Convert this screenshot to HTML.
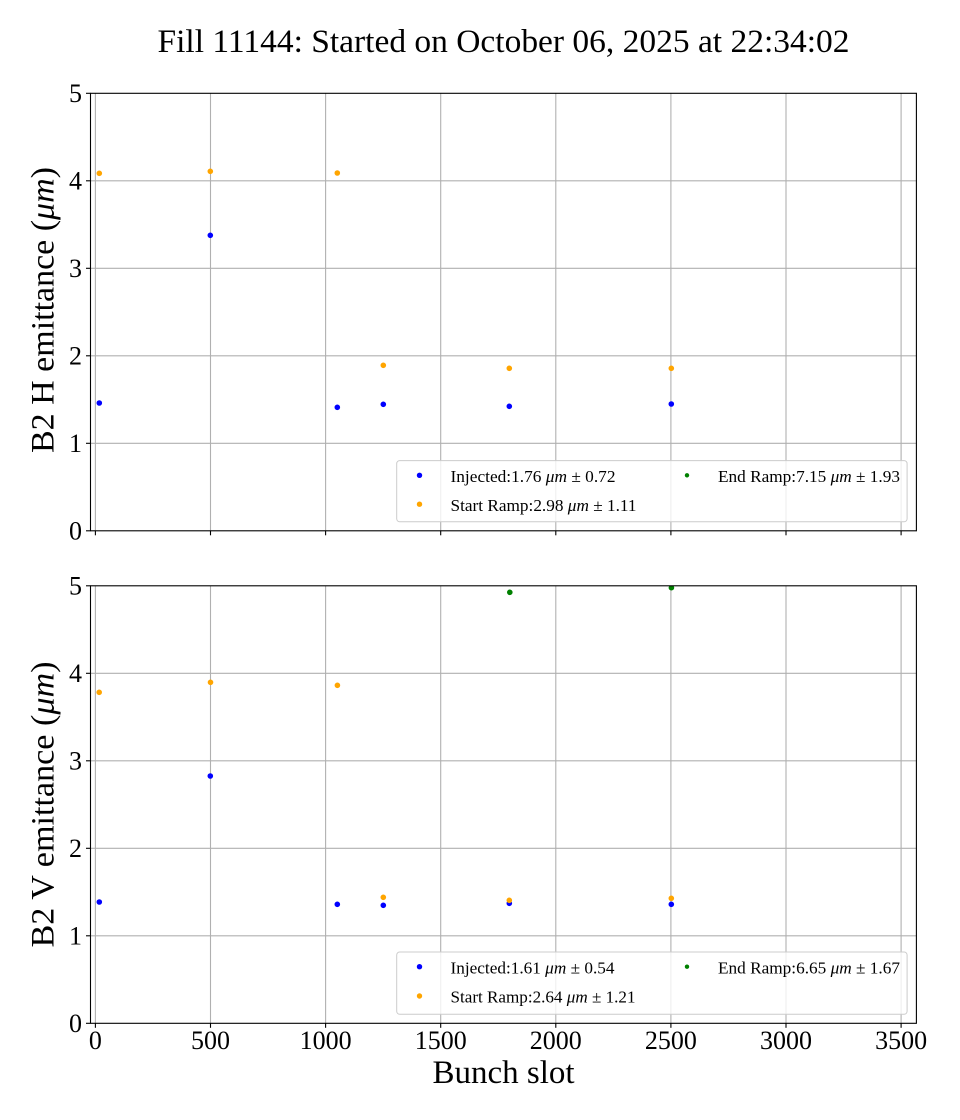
<!DOCTYPE html>
<html>
<head>
<meta charset="utf-8">
<style>
  html, body { margin: 0; padding: 0; background: #ffffff; }
  svg { display: block; }
  text { font-family: "Liberation Serif", "DejaVu Serif", serif; fill: #000; }
</style>
</head>
<body>
<svg width="960" height="1120" viewBox="0 0 960 1120" xmlns="http://www.w3.org/2000/svg">
  <defs>
    <clipPath id="c1"><rect x="90.5" y="93.3" width="825.9" height="437.5"/></clipPath>
    <clipPath id="c2"><rect x="90.5" y="585.8" width="825.9" height="437.5"/></clipPath>
  </defs>
  <rect width="960" height="1120" fill="#fff"/>

  <!-- Title -->
  <text x="503.5" y="52" font-size="33" text-anchor="middle" textLength="692" lengthAdjust="spacingAndGlyphs">Fill 11144: Started on October 06, 2025 at 22:34:02</text>

  <!-- ================= TOP AXES ================= -->
  <g stroke="#b0b0b0" stroke-width="1.1" fill="none">
    <line x1="95.4" y1="93.3" x2="95.4" y2="530.8"/>
    <line x1="210.5" y1="93.3" x2="210.5" y2="530.8"/>
    <line x1="325.6" y1="93.3" x2="325.6" y2="530.8"/>
    <line x1="440.7" y1="93.3" x2="440.7" y2="530.8"/>
    <line x1="555.8" y1="93.3" x2="555.8" y2="530.8"/>
    <line x1="670.9" y1="93.3" x2="670.9" y2="530.8"/>
    <line x1="786" y1="93.3" x2="786" y2="530.8"/>
    <line x1="901.1" y1="93.3" x2="901.1" y2="530.8"/>
    <line x1="90.5" y1="443.3" x2="916.4" y2="443.3"/>
    <line x1="90.5" y1="355.8" x2="916.4" y2="355.8"/>
    <line x1="90.5" y1="268.3" x2="916.4" y2="268.3"/>
    <line x1="90.5" y1="180.8" x2="916.4" y2="180.8"/>
  </g>
  <g clip-path="url(#c1)">
    <g fill="#0000ff">
      <circle cx="99.3" cy="403" r="2.8"/>
      <circle cx="210.3" cy="235.3" r="2.8"/>
      <circle cx="337.3" cy="407.3" r="2.8"/>
      <circle cx="383.3" cy="404.3" r="2.8"/>
      <circle cx="509.3" cy="406.3" r="2.8"/>
      <circle cx="671.3" cy="404" r="2.8"/>
    </g>
    <g fill="#ffa500">
      <circle cx="99.3" cy="173.3" r="2.8"/>
      <circle cx="210.3" cy="171.3" r="2.8"/>
      <circle cx="337.3" cy="173" r="2.8"/>
      <circle cx="383.3" cy="365.3" r="2.8"/>
      <circle cx="509.3" cy="368.3" r="2.8"/>
      <circle cx="671.3" cy="368.3" r="2.8"/>
    </g>
  </g>
  <!-- legend top -->
  <rect x="396.7" y="460.6" width="510.4" height="61.2" rx="3" ry="3" fill="#fff" fill-opacity="0.8" stroke="#cccccc" stroke-width="1"/>
  <circle cx="419.5" cy="475.3" r="2.7" fill="#0000ff"/>
  <circle cx="419.5" cy="504.2" r="2.7" fill="#ffa500"/>
  <circle cx="687" cy="475.3" r="2.2" fill="#008000"/>
  <text x="450.5" y="482" font-size="17" textLength="165" lengthAdjust="spacingAndGlyphs">Injected:1.76 <tspan font-style="italic">μm</tspan> ± 0.72</text>
  <text x="450.5" y="510.8" font-size="17" textLength="186" lengthAdjust="spacingAndGlyphs">Start Ramp:2.98 <tspan font-style="italic">μm</tspan> ± 1.11</text>
  <text x="718" y="482" font-size="17" textLength="182" lengthAdjust="spacingAndGlyphs">End Ramp:7.15 <tspan font-style="italic">μm</tspan> ± 1.93</text>

  <!-- spines top -->
  <rect x="90.5" y="93.3" width="825.9" height="437.5" fill="none" stroke="#000" stroke-width="1.1"/>
  <!-- ticks top -->
  <g stroke="#000" stroke-width="1.1">
    <line x1="86" y1="530.8" x2="90.5" y2="530.8"/>
    <line x1="86" y1="443.3" x2="90.5" y2="443.3"/>
    <line x1="86" y1="355.8" x2="90.5" y2="355.8"/>
    <line x1="86" y1="268.3" x2="90.5" y2="268.3"/>
    <line x1="86" y1="180.8" x2="90.5" y2="180.8"/>
    <line x1="86" y1="93.3" x2="90.5" y2="93.3"/>
    <line x1="95.4" y1="530.8" x2="95.4" y2="535.3"/>
    <line x1="210.5" y1="530.8" x2="210.5" y2="535.3"/>
    <line x1="325.6" y1="530.8" x2="325.6" y2="535.3"/>
    <line x1="440.7" y1="530.8" x2="440.7" y2="535.3"/>
    <line x1="555.8" y1="530.8" x2="555.8" y2="535.3"/>
    <line x1="670.9" y1="530.8" x2="670.9" y2="535.3"/>
    <line x1="786" y1="530.8" x2="786" y2="535.3"/>
    <line x1="901.1" y1="530.8" x2="901.1" y2="535.3"/>
  </g>
  <g font-size="26" text-anchor="end">
    <text x="82" y="539.3">0</text>
    <text x="82" y="451.8">1</text>
    <text x="82" y="364.3">2</text>
    <text x="82" y="276.8">3</text>
    <text x="82" y="189.3">4</text>
    <text x="82" y="101.8">5</text>
  </g>
  <text transform="translate(53.5,310) rotate(-90)" font-size="33" text-anchor="middle" textLength="286" lengthAdjust="spacingAndGlyphs">B2 H emittance (<tspan font-style="italic">μm</tspan>)</text>

  <!-- ================= BOTTOM AXES ================= -->
  <g stroke="#b0b0b0" stroke-width="1.1" fill="none">
    <line x1="95.4" y1="585.8" x2="95.4" y2="1023.3"/>
    <line x1="210.5" y1="585.8" x2="210.5" y2="1023.3"/>
    <line x1="325.6" y1="585.8" x2="325.6" y2="1023.3"/>
    <line x1="440.7" y1="585.8" x2="440.7" y2="1023.3"/>
    <line x1="555.8" y1="585.8" x2="555.8" y2="1023.3"/>
    <line x1="670.9" y1="585.8" x2="670.9" y2="1023.3"/>
    <line x1="786" y1="585.8" x2="786" y2="1023.3"/>
    <line x1="901.1" y1="585.8" x2="901.1" y2="1023.3"/>
    <line x1="90.5" y1="935.8" x2="916.4" y2="935.8"/>
    <line x1="90.5" y1="848.3" x2="916.4" y2="848.3"/>
    <line x1="90.5" y1="760.8" x2="916.4" y2="760.8"/>
    <line x1="90.5" y1="673.3" x2="916.4" y2="673.3"/>
  </g>
  <g clip-path="url(#c2)">
    <g fill="#0000ff">
      <circle cx="99.3" cy="902" r="2.8"/>
      <circle cx="210.3" cy="776" r="2.8"/>
      <circle cx="337.3" cy="904.3" r="2.8"/>
      <circle cx="383.3" cy="905.3" r="2.8"/>
      <circle cx="509.3" cy="903.3" r="2.8"/>
      <circle cx="671.3" cy="904.3" r="2.8"/>
    </g>
    <g fill="#ffa500">
      <circle cx="99.2" cy="692.3" r="2.8"/>
      <circle cx="210.5" cy="682.3" r="2.8"/>
      <circle cx="337.4" cy="685.3" r="2.8"/>
      <circle cx="383.3" cy="897.3" r="2.8"/>
      <circle cx="509.3" cy="900.3" r="2.8"/>
      <circle cx="671.3" cy="898.3" r="2.8"/>
    </g>
    <g fill="#008000">
      <circle cx="509.8" cy="592.3" r="2.8"/>
      <circle cx="671.4" cy="587.7" r="2.8"/>
    </g>
  </g>
  <!-- legend bottom -->
  <rect x="396.7" y="952" width="510.4" height="62.3" rx="3" ry="3" fill="#fff" fill-opacity="0.8" stroke="#cccccc" stroke-width="1"/>
  <circle cx="419.5" cy="966.7" r="2.7" fill="#0000ff"/>
  <circle cx="419.5" cy="996" r="2.7" fill="#ffa500"/>
  <circle cx="687" cy="966.7" r="2.2" fill="#008000"/>
  <text x="450.5" y="973.3" font-size="17" textLength="164" lengthAdjust="spacingAndGlyphs">Injected:1.61 <tspan font-style="italic">μm</tspan> ± 0.54</text>
  <text x="450.5" y="1002.7" font-size="17" textLength="185" lengthAdjust="spacingAndGlyphs">Start Ramp:2.64 <tspan font-style="italic">μm</tspan> ± 1.21</text>
  <text x="718" y="973.3" font-size="17" textLength="182" lengthAdjust="spacingAndGlyphs">End Ramp:6.65 <tspan font-style="italic">μm</tspan> ± 1.67</text>

  <rect x="90.5" y="585.8" width="825.9" height="437.5" fill="none" stroke="#000" stroke-width="1.1"/>
  <g stroke="#000" stroke-width="1.1">
    <line x1="86" y1="1023.3" x2="90.5" y2="1023.3"/>
    <line x1="86" y1="935.8" x2="90.5" y2="935.8"/>
    <line x1="86" y1="848.3" x2="90.5" y2="848.3"/>
    <line x1="86" y1="760.8" x2="90.5" y2="760.8"/>
    <line x1="86" y1="673.3" x2="90.5" y2="673.3"/>
    <line x1="86" y1="585.8" x2="90.5" y2="585.8"/>
    <line x1="95.4" y1="1023.3" x2="95.4" y2="1027.8"/>
    <line x1="210.5" y1="1023.3" x2="210.5" y2="1027.8"/>
    <line x1="325.6" y1="1023.3" x2="325.6" y2="1027.8"/>
    <line x1="440.7" y1="1023.3" x2="440.7" y2="1027.8"/>
    <line x1="555.8" y1="1023.3" x2="555.8" y2="1027.8"/>
    <line x1="670.9" y1="1023.3" x2="670.9" y2="1027.8"/>
    <line x1="786" y1="1023.3" x2="786" y2="1027.8"/>
    <line x1="901.1" y1="1023.3" x2="901.1" y2="1027.8"/>
  </g>
  <g font-size="26" text-anchor="end">
    <text x="82" y="1031.8">0</text>
    <text x="82" y="944.3">1</text>
    <text x="82" y="856.8">2</text>
    <text x="82" y="769.3">3</text>
    <text x="82" y="681.8">4</text>
    <text x="82" y="594.3">5</text>
  </g>
  <g font-size="26" text-anchor="middle">
    <text x="95.4" y="1049">0</text>
    <text x="210.5" y="1049">500</text>
    <text x="325.6" y="1049">1000</text>
    <text x="440.7" y="1049">1500</text>
    <text x="555.8" y="1049">2000</text>
    <text x="670.9" y="1049">2500</text>
    <text x="786" y="1049">3000</text>
    <text x="901.1" y="1049">3500</text>
  </g>
  <text transform="translate(53.5,804.5) rotate(-90)" font-size="33" text-anchor="middle" textLength="286" lengthAdjust="spacingAndGlyphs">B2 V emittance (<tspan font-style="italic">μm</tspan>)</text>
  <text x="503.5" y="1083" font-size="33" text-anchor="middle">Bunch slot</text>
</svg>
</body>
</html>
